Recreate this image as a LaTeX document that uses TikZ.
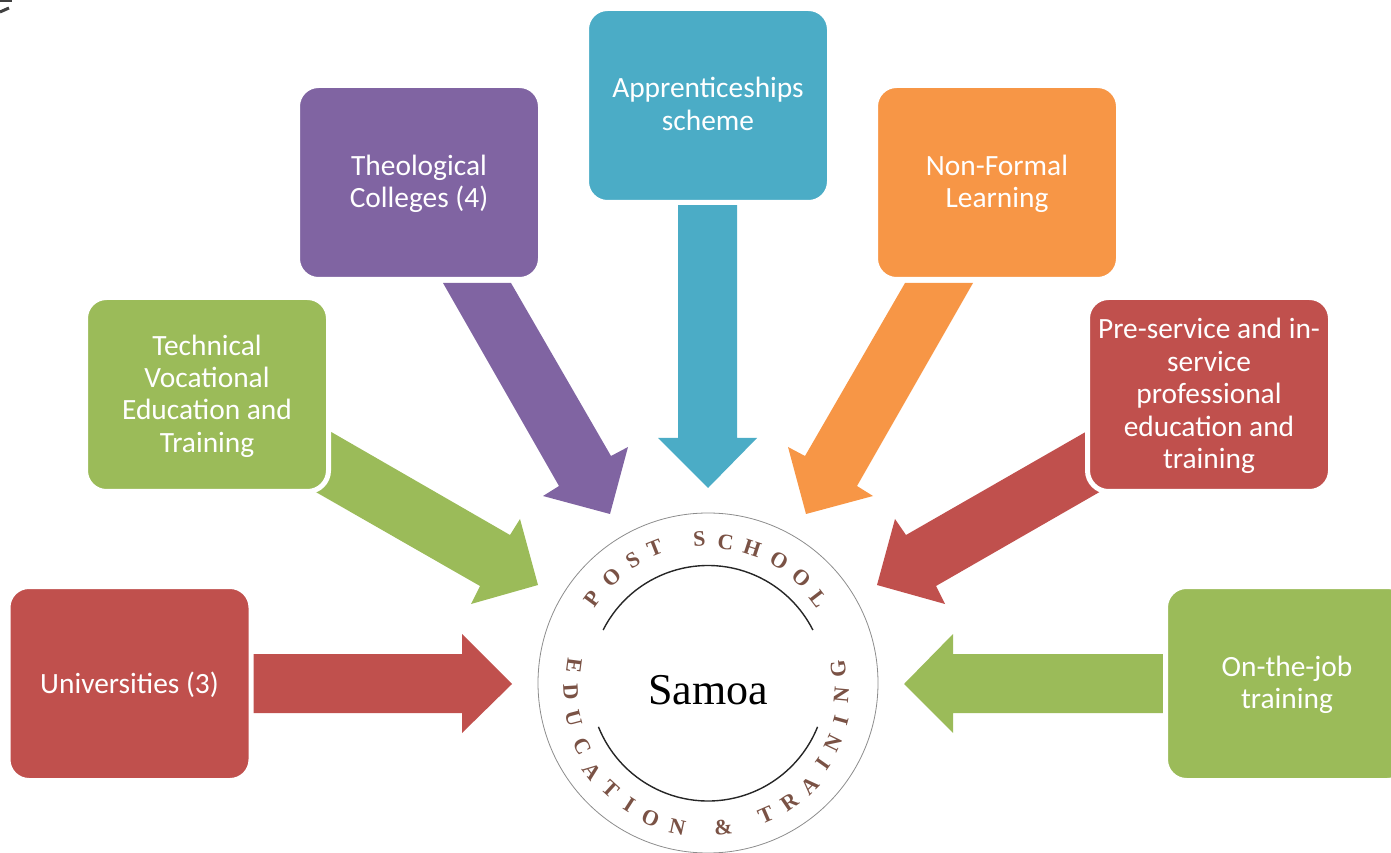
\documentclass[tikz,border=0pt]{standalone}
\usepackage{fontspec}
\setmainfont{Carlito}
\newfontfamily\ringfont{Liberation Serif}
\newfontfamily\titlefont{Liberation Serif}
\definecolor{cred}{HTML}{C0504D}
\definecolor{cgreen}{HTML}{9BBB59}
\definecolor{cpurple}{HTML}{8064A2}
\definecolor{cblue}{HTML}{4BACC6}
\definecolor{corange}{HTML}{F79646}
\definecolor{cring}{HTML}{7A5245}
\tikzset{
  box/.style={draw=white,line width=5pt,rounded corners=21pt,minimum width=243pt,minimum height=194pt,inner sep=0pt},
  boxlabel/.style={align=center,text=white,inner sep=0pt,yshift=-1.5pt,font=\fontsize{29.4}{32.4}\selectfont},
  toplet/.style={text=cring,inner sep=0pt,font=\ringfont\bfseries\fontsize{22}{22}\selectfont},
}
\begin{document}
\begin{tikzpicture}[x=1pt,y=1pt]
\useasboundingbox (0,0) rectangle (1391,852);
% scan fragment, top-left corner
\fill[black!75] (0,852) rectangle (12,850);
\draw[black!75,line width=3pt] (0,840) -- (9,844);
% block arrows
\fill[cred] (253,198) -- (462,198) -- (462,218) -- (512,168) -- (462,119) -- (462,139) -- (253,139) -- cycle;
\fill[cgreen] (300,438) -- (510,317) -- (520,333) -- (538,267) -- (471,248) -- (480,266) -- (300,369) -- cycle;
\fill[cpurple] (443,569) -- (511,569) -- (611,396) -- (628,405) -- (610,338) -- (543,356) -- (559,366) -- cycle;
\fill[cblue] (678,647) -- (737,647) -- (737,414) -- (757,414) -- (708,364) -- (658,414) -- (678,414) -- cycle;
\fill[corange] (905,569) -- (805,396) -- (788,405) -- (806,338) -- (873,356) -- (857,366) -- (973,569) -- cycle;
\fill[cred] (1110,434) -- (906,317) -- (895,333) -- (877,267) -- (945,248) -- (936,266) -- (1110,366) -- cycle;
\fill[cgreen] (1163,198) -- (953,198) -- (953,218) -- (904,168) -- (953,119) -- (953,139) -- (1163,139) -- cycle;
% boxes
\node[box,fill=cred,label={[boxlabel]center:Universities (3)}] (univ) at (129.5,168.5) {};
\node[box,fill=cgreen,label={[boxlabel]center:Technical\\Vocational\\Education and\\Training}] (tvet) at (207,457.5) {};
\node[box,fill=cpurple,label={[boxlabel]center:Theological\\Colleges (4)}] (theo) at (419,669.5) {};
\node[box,fill=cblue,label={[boxlabel,yshift=3pt]center:Apprenticeships\\scheme}] (appr) at (708,746.5) {};
\node[box,fill=corange,label={[boxlabel]center:Non-Formal\\Learning}] (nonf) at (997,669.5) {};
\node[box,fill=cred,label={[boxlabel]center:Pre-service and in-\\service\\professional\\education and\\training}] (pres) at (1209,457.5) {};
\node[box,fill=cgreen,label={[boxlabel]center:On-the-job\\training}] (ojt) at (1287,168.5) {};
% seal
\coordinate (c) at (708,169);
\draw[black!45,line width=0.8pt] (c) circle (170);
\draw[black!85,line width=1.4pt] ([shift={(153.2:117.5)}]c) arc[start angle=153.2,end angle=26.8,radius=117.5];
\draw[black!85,line width=1.4pt] ([shift={(201.8:118)}]c) arc[start angle=201.8,end angle=338.2,radius=118];
\node[anchor=base,inner sep=0pt,font=\titlefont\fontsize{44}{44}\selectfont] (samoa) at (708,148) {Samoa};
\foreach \a/\r/\l in {143.8/143/P,132.4/143/O,121.5/144/S,111.5/145/T,93.5/144/S,82.9/142/C,71.8/142/H,59.9/142/O,48.2/141/O,37.3/139/L}
  \node[toplet,rotate=\a-90] at ([shift={(\a:\r)}]c) {\l};
\foreach \a/\r/\l in {172.6/135/E,183.6/137.5/D,194.7/139/U,206.7/141/C,217.3/146/A,227.6/144/T,237.2/145/I,247/147/O,258/147/N,276/145/\&,293.7/144/T,304.4/144/R,314.7/145/A,324.8/141/I,334.3/139/N,344.4/138/I,354.9/134/N,366.4/131/G}
  \node[toplet,rotate=\a+90] at ([shift={(\a:\r)}]c) {\l};
\end{tikzpicture}
\end{document}
